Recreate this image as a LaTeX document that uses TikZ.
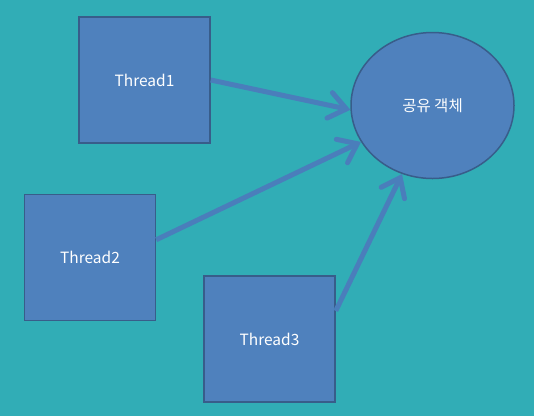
\documentclass[tikz,border=0pt]{standalone}
\usepackage{fontspec}
\newfontfamily\krfont{Noto Sans CJK KR}
\usetikzlibrary{arrows.meta,shapes.geometric}
\definecolor{seabg}{HTML}{31ADB6}
\definecolor{boxblue}{HTML}{4F81BD}
\definecolor{boxline}{HTML}{385D8A}
\definecolor{arrowblue}{HTML}{4A7EBB}
\tikzset{
  threadbox/.style={draw=boxline, line width=1.5pt, fill=boxblue, minimum width=131pt, minimum height=126pt, inner sep=0pt, text=white, font=\krfont\fontsize{15.5}{18}\selectfont},
  sharedobj/.style={ellipse, draw=boxline, line width=1.5pt, fill=boxblue, minimum width=163pt, minimum height=146pt, inner sep=0pt, text=white, font=\krfont\fontsize{15.5}{18}\selectfont},
  accessarrow/.style={draw=arrowblue, line width=5pt, -{Straight Barb[length=17pt, width=26pt, line cap=round]}}
}
\begin{document}
\begin{tikzpicture}[x=1pt, y=-1pt]
			%%%%% START %%%%%
			
			\fill[seabg] (0, 0) rectangle (534, 416);
			\useasboundingbox (0, 0) rectangle (534, 416);
			
			\node[threadbox] (t1) at (144.5, 80) {Thread1};
			\node[threadbox] (t2) at (90, 257.5) {Thread2};
			\node[threadbox] (t3) at (269.5, 339) {Thread3};
			
			\node[sharedobj] (obj) at (432.5, 105.5) {공유 객체};
			
			\draw[accessarrow] (t1.east) -- (obj.183);
			\draw[accessarrow] (t2.15) -- (obj.207);
			\draw[accessarrow] (t3.23) -- (obj.246);
			
			%%%%% END %%%%%
\end{tikzpicture}
\end{document}
